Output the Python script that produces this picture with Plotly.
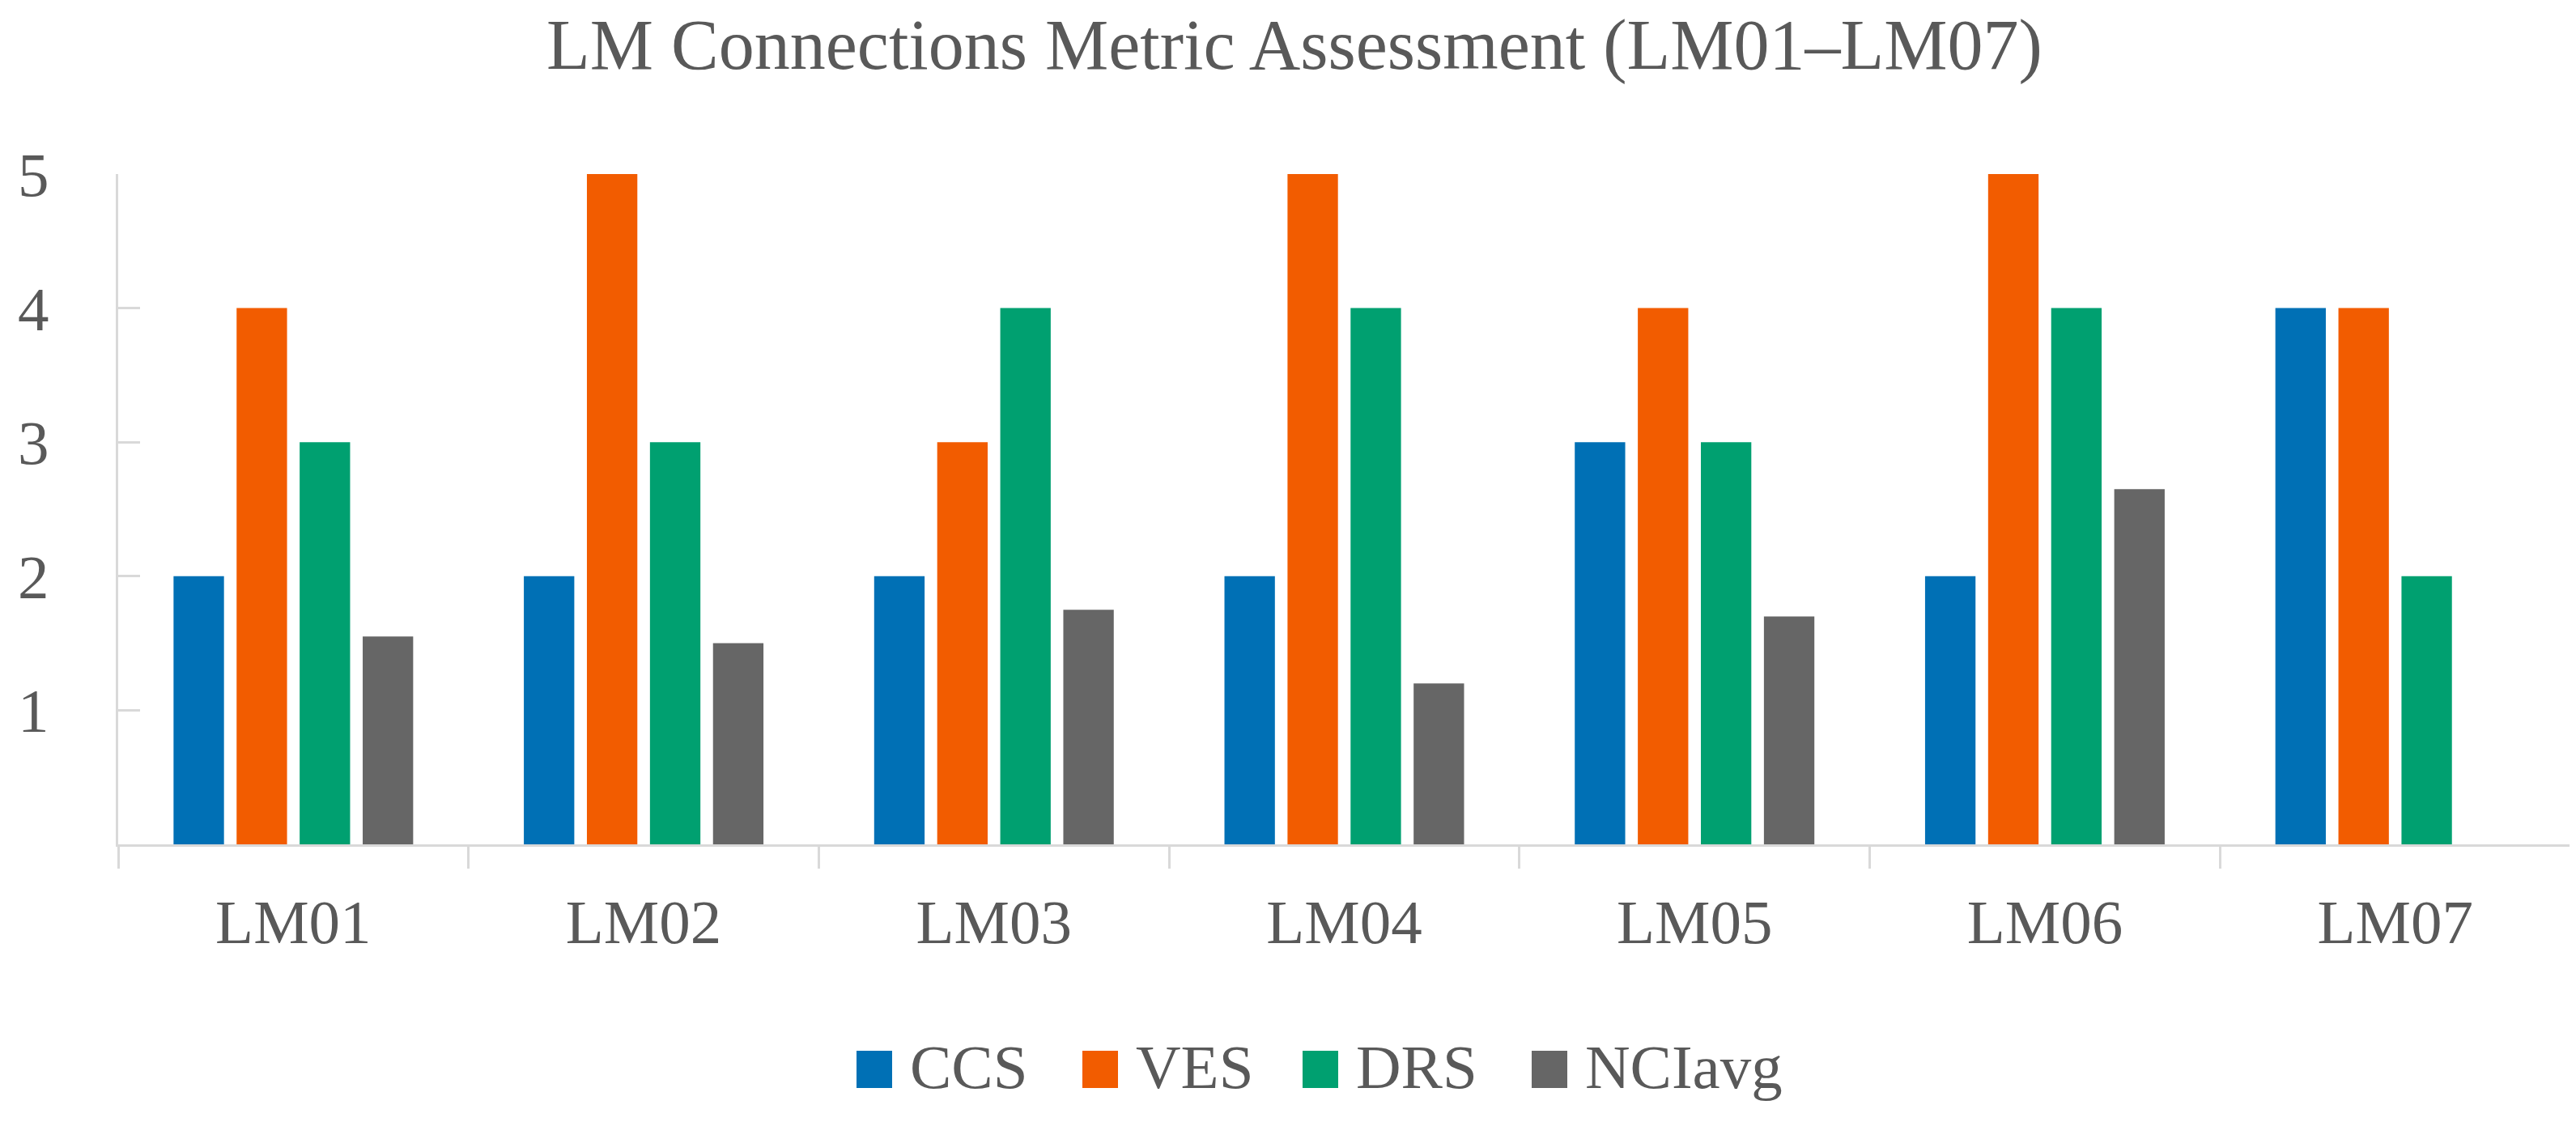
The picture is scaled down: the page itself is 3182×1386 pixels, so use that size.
import plotly.graph_objects as go

categories = ["LM01", "LM02", "LM03", "LM04", "LM05", "LM06", "LM07"]
series_names = ["CCS", "VES", "DRS", "NCIavg"]
ccs = [2, 2, 2, 2, 3, 2, 4]
ves = [4, 5, 3, 5, 4, 5, 4]
drs = [3, 3, 4, 4, 3, 4, 2]
nci_avg = [1.55, 1.5, 1.75, 1.2, 1.7, 2.65, None]
y_ticks = [1, 2, 3, 4, 5]

colors = ["#0070B5", "#F25C00", "#00A070", "#666666"]
values = [ccs, ves, drs, nci_avg]

W, H = 3182, 1386
L, R, T, B = 138, 15, 207, 351
plot_w = W - L - R
plot_h = H - T - B

FONT = "Liberation Serif"
TXT = "#595959"
AX = "#D9D9D9"

fig = go.Figure()
for name, vals, col in zip(series_names, values, colors):
    fig.add_trace(go.Bar(name=name, x=categories, y=vals, marker_color=col,
                         marker_line_width=0, showlegend=False))

def px_x(x):
    return (x - L) / plot_w

def px_y(y):
    return (H - B - y) / plot_h

# legend drawn with large square swatches like the reference
legend_sq_x = [1050, 1329, 1601, 1884]
sq_w = 44
sq_top, sq_bot = 1290, 1336
for name, col, x0 in zip(series_names, colors, legend_sq_x):
    fig.add_shape(type="rect", xref="paper", yref="paper",
                  x0=px_x(x0), x1=px_x(x0 + sq_w), y0=px_y(sq_bot), y1=px_y(sq_top),
                  fillcolor=col, line_width=0)
    fig.add_annotation(xref="paper", yref="paper", x=px_x(x0 + sq_w + 20), y=px_y(1310),
                       xanchor="left", yanchor="middle", text=name, showarrow=False,
                       font=dict(family=FONT, size=77, color=TXT))

fig.update_layout(
    width=W, height=H,
    margin=dict(l=L, r=R, t=T, b=B, autoexpand=False),
    paper_bgcolor="white", plot_bgcolor="white",
    barmode="group", bargap=0.28, bargroupgap=0.2,
    font=dict(family=FONT, size=77, color=TXT),
    title=dict(text="LM Connections Metric Assessment (LM01–LM07)",
               x=0.5, xanchor="center", y=1 - 46 / H, yanchor="middle", yref="container",
               font=dict(family=FONT, size=88, color=TXT)),
    xaxis=dict(showline=True, linecolor=AX, linewidth=3, ticks="outside",
               tickson="boundaries", ticklen=27, tickwidth=3, tickcolor=AX,
               showgrid=False, zeroline=False, ticklabelstandoff=27,
               tickfont=dict(family=FONT, size=77, color=TXT)),
    yaxis=dict(range=[0, 5], showline=True, linecolor=AX, linewidth=3,
               ticks="inside", ticklen=27, tickwidth=3, tickcolor=AX,
               tickvals=y_ticks, showgrid=False, zeroline=False,
               ticklabelstandoff=67,
               tickfont=dict(family=FONT, size=77, color=TXT)),
)

fig.write_html("out.html")
